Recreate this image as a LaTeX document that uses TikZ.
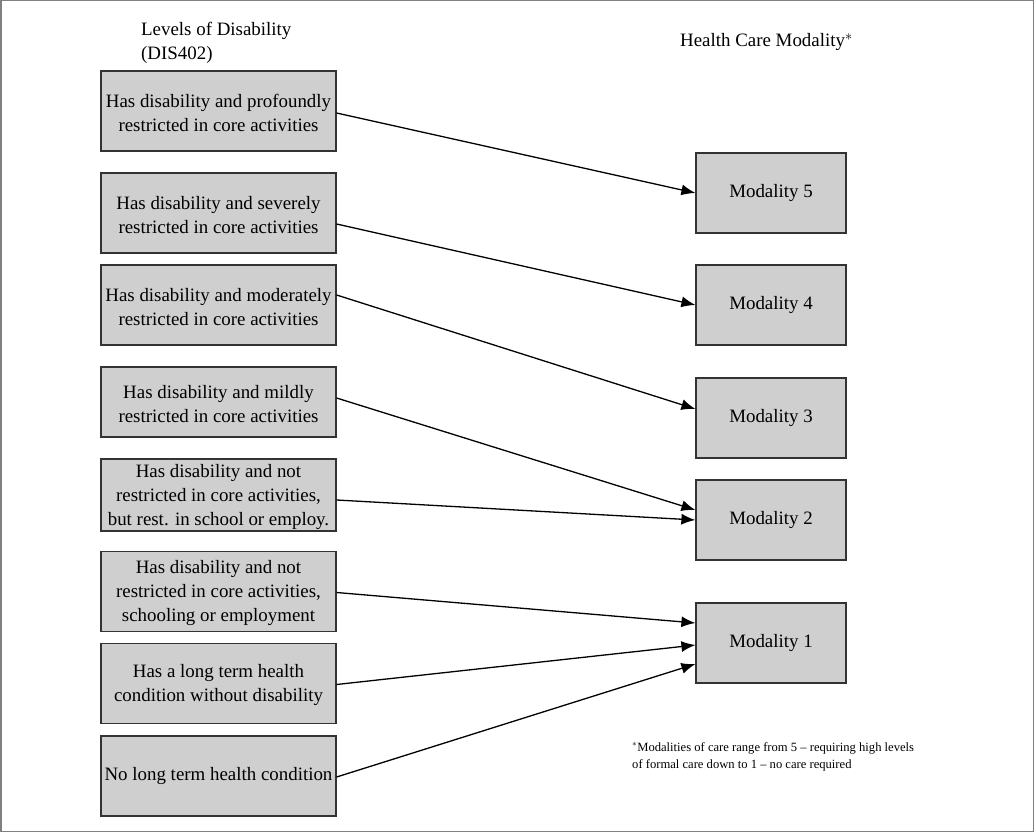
\documentclass[tikz,border=0pt]{standalone}
\usepackage{fontspec}
\setmainfont{Liberation Serif}
\usetikzlibrary{arrows.meta}
\begin{document}
\begin{tikzpicture}[x=1pt,y=-1pt]
	\tikzset{level/.style = {draw=black!80,fill=black!19,line width=1.2pt,minimum width=235pt,minimum height=80pt,align=center,inner sep=0pt,font=\fontsize{18.9}{24}\selectfont}}
	\tikzset{modality/.style = {level,minimum width=150pt}}
	\tikzset{edge/.style = {-{Latex[length=14pt,width=11pt]},line width=1.3pt}}
	\useasboundingbox (0,0) rectangle (1034,832);
	\draw[black!50,line width=1.5pt] (0.75,0.75) rectangle (1033.25,831.25);
	% headings
	\node[anchor=north west,align=left,inner sep=0pt,font=\fontsize{18.9}{24}\selectfont] (lhead) at (141,22) {Levels of Disability\\(DIS402)};
	\node[anchor=north west,inner sep=0pt,font=\fontsize{18.9}{24}\selectfont] (mhead) at (680,33) {Health Care Modality$^{*}$};
	% levels
	\node[level] (l1) at (218.5,111) {\strut Has disability and profoundly\\restricted in core activities};
	\node[level] (l2) at (218.5,213) {\strut Has disability and severely\\restricted in core activities};
	\node[level] (l3) at (218.5,305) {\strut Has disability and moderately\\restricted in core activities};
	\node[level,minimum height=70pt] (l4) at (218.5,402) {\strut Has disability and mildly\\restricted in core activities};
	\node[level,minimum height=72pt] (l5) at (218.5,495) {\strut Has disability and not\\restricted in core activities,\\but rest. in school or employ.};
	\node[level] (l6) at (218.5,591.5) {\strut Has disability and not\\restricted in core activities,\\schooling or employment};
	\node[level] (l7) at (218.5,683.5) {\strut Has a long term health\\condition without disability};
	\node[level] (l8) at (218.5,776) {\strut No long term health condition};
	% modalities
	\node[modality] (m5) at (771,193) {\strut Modality 5};
	\node[modality] (m4) at (771,305) {\strut Modality 4};
	\node[modality] (m3) at (771,418) {\strut Modality 3};
	\node[modality] (m2) at (771,520) {\strut Modality 2};
	\node[modality] (m1) at (771,643) {\strut Modality 1};
	% links
	\draw[edge] ([yshift=-2pt]l1.east) -- (m5.west);
	\draw[edge] ([yshift=-11pt]l2.east) -- (m4.west);
	\draw[edge] ([yshift=10pt]l3.east) -- ([yshift=9pt]m3.west);
	\draw[edge] ([yshift=4pt]l4.east) -- ([yshift=10pt]m2.west);
	\draw[edge] ([yshift=-5pt]l5.east) -- (m2.west);
	\draw[edge] ([yshift=-1pt]l6.east) -- ([yshift=20pt]m1.west);
	\draw[edge] ([yshift=-1pt]l7.east) -- ([yshift=-2pt]m1.west);
	\draw[edge] ([yshift=-1pt]l8.east) -- ([yshift=-21pt]m1.west);
	% footnote
	\node[anchor=north west,align=left,inner sep=0pt,font=\fontsize{12.6}{17}\selectfont] (note) at (632,742) {$^{*}$Modalities of care range from 5 -- requiring high levels\\of formal care down to 1 -- no care required};
\end{tikzpicture}
\end{document}
